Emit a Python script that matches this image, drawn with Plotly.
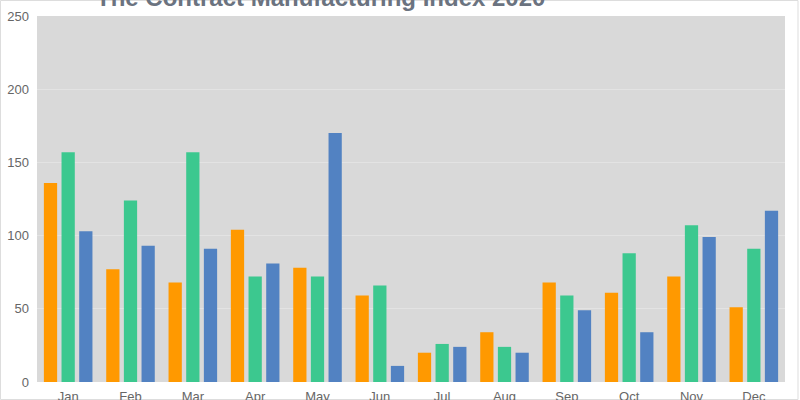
import plotly.graph_objects as go

months = ["Jan", "Feb", "Mar", "Apr", "May", "Jun", "Jul", "Aug", "Sep", "Oct", "Nov", "Dec"]
series_a = [136, 77, 68, 104, 78, 59, 20, 34, 68, 61, 72, 51]
series_b = [157, 124, 157, 72, 72, 66, 26, 24, 59, 88, 107, 91]
series_c = [103, 93, 91, 81, 170, 11, 24, 20, 49, 34, 99, 117]
colors = ["#FF9900", "#3CC88F", "#5282C2"]

fig = go.Figure()
for vals, col in zip([series_a, series_b, series_c], colors):
    fig.add_trace(go.Bar(x=months, y=vals, marker=dict(color=col, line=dict(width=0))))

fig.update_layout(
    width=800,
    height=400,
    showlegend=False,
    barmode="group",
    bargap=0.15,
    bargroupgap=0.25,
    paper_bgcolor="white",
    plot_bgcolor="#D9D9D9",
    margin=dict(l=37, r=15, t=16, b=18, autoexpand=False),
    font=dict(family="Liberation Sans, Arial, sans-serif", size=13, color="#666666"),
)
fig.add_annotation(
    text="<b>The Contract Manufacturing Index 2020</b>",
    xref="paper", yref="paper",
    x=0.379, y=1.0, yshift=3, xanchor="center", yanchor="bottom",
    showarrow=False,
    font=dict(size=24, color="#6B7380"),
)
fig.add_shape(
    type="rect", xref="paper", yref="paper",
    x0=-36.5 / 748, x1=1 + 13 / 748, y0=-17.5 / 366, y1=1 + 15.5 / 366,
    line=dict(color="#DDDDDD", width=1), layer="below",
)
fig.update_xaxes(showgrid=False, ticks="", ticklabelstandoff=5, automargin=False)
fig.update_yaxes(
    range=[0, 250],
    dtick=50,
    showgrid=True,
    gridcolor="#E3E3E3",
    gridwidth=1,
    zeroline=False,
    ticks="",
    ticklabelstandoff=7,
    automargin=False,
)

# drop the page's default body margin so the figure sits at the window corner
fig.write_html(
    "out.html",
    config={"displayModeBar": False},
    post_script="document.body.style.margin='0';",
)
